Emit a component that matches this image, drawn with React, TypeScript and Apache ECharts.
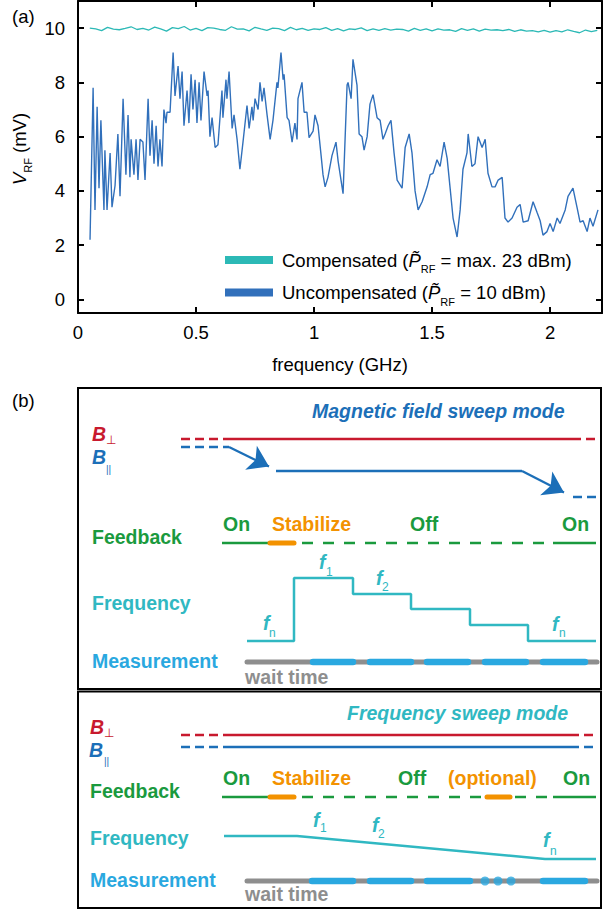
import React, { useEffect, useRef } from "react";
import * as echarts from "echarts";

const FONT = '"Liberation Sans", Arial, Helvetica, sans-serif';

// ---------- Panel (a) data ----------
const xTickValues = [0, 0.5, 1, 1.5, 2];
const xTopTickValues = [0.5, 1, 1.5, 2];
const yTickValues = [0, 2, 4, 6, 8, 10];

const compFreq = [
  0.05, 0.075, 0.1, 0.125, 0.15, 0.175, 0.2, 0.225, 0.25, 0.275, 0.3, 0.325, 0.35, 0.375, 0.4, 0.425,
  0.45, 0.475, 0.5, 0.525, 0.55, 0.575, 0.6, 0.625, 0.65, 0.675, 0.7, 0.725, 0.75, 0.775, 0.8, 0.825,
  0.85, 0.875, 0.9, 0.925, 0.95, 0.975, 1.0, 1.025, 1.05, 1.075, 1.1, 1.125, 1.15, 1.175, 1.2, 1.225,
  1.25, 1.275, 1.3, 1.325, 1.35, 1.375, 1.4, 1.425, 1.45, 1.475, 1.5, 1.525, 1.55, 1.575, 1.6, 1.625,
  1.65, 1.675, 1.7, 1.725, 1.75, 1.775, 1.8, 1.825, 1.85, 1.875, 1.9, 1.925, 1.95, 1.975, 2.0, 2.025,
  2.05, 2.075, 2.1, 2.125, 2.15, 2.175, 2.2,
];
const compVolt = [
  10.0, 9.97, 9.91, 10.03, 9.96, 9.94, 9.99, 10.05, 9.95, 9.99, 9.93, 10.04, 9.97, 9.89, 10.02, 9.98,
  10.06, 9.93, 9.99, 9.91, 10.02, 10.0, 9.95, 9.92, 10.05, 9.96, 9.97, 9.9, 10.03, 9.97, 9.92, 10.0,
  9.98, 9.91, 10.03, 9.94, 9.99, 9.92, 9.97, 9.95, 10.02, 9.92, 9.98, 9.9, 9.97, 9.95, 10.01, 9.91,
  9.97, 9.92, 9.98, 9.93, 9.96, 9.95, 9.89, 9.99, 9.92, 9.97, 9.9, 9.97, 9.93, 9.94, 9.88, 9.98,
  9.92, 9.97, 9.89, 9.96, 9.93, 9.94, 9.91, 9.95, 9.88, 9.94, 9.89, 9.91, 9.86, 9.92, 9.85, 9.91,
  9.86, 9.94, 9.88, 9.83, 9.93, 9.87, 9.92,
];

const uncompFreq = [
  0.051, 0.064, 0.072, 0.081, 0.089, 0.097, 0.11, 0.114, 0.123, 0.136, 0.144, 0.157, 0.169, 0.178, 0.191,
  0.203, 0.212, 0.22, 0.225, 0.237, 0.246, 0.254, 0.263, 0.275, 0.284, 0.297, 0.305, 0.314, 0.322, 0.331,
  0.339, 0.347, 0.356, 0.364, 0.373, 0.377, 0.39, 0.403, 0.411, 0.424, 0.432, 0.441, 0.449, 0.462, 0.47,
  0.479, 0.487, 0.496, 0.504, 0.513, 0.521,
  0.534, 0.547, 0.551, 0.559, 0.568, 0.581, 0.593, 0.61, 0.614, 0.627, 0.631, 0.64, 0.653, 0.661, 0.674,
  0.686, 0.699, 0.716, 0.725, 0.737, 0.742, 0.75, 0.763, 0.771, 0.78, 0.788, 0.801, 0.814, 0.826, 0.843,
  0.847, 0.86, 0.869, 0.873, 0.886, 0.894, 0.907, 0.919, 0.928, 0.932, 0.949, 0.958, 0.97, 0.979, 0.996,
  1.004, 1.017, 1.03, 1.038, 1.047, 1.059, 1.076, 1.093, 1.102, 1.123, 1.14, 1.144, 1.157, 1.165, 1.182,
  1.191, 1.203, 1.212, 1.225, 1.237, 1.25, 1.267, 1.28, 1.292, 1.301, 1.314, 1.326, 1.339, 1.352, 1.373,
  1.386, 1.403, 1.415, 1.428, 1.441, 1.458, 1.479, 1.492, 1.504, 1.521, 1.534, 1.551, 1.564, 1.576, 1.589,
  1.606, 1.619, 1.631, 1.648, 1.653, 1.669, 1.682, 1.695, 1.712, 1.725, 1.737, 1.754, 1.767, 1.78, 1.797,
  1.809, 1.822, 1.839, 1.86, 1.873, 1.886, 1.907, 1.928, 1.945, 1.958, 1.97, 1.987, 2.0, 2.013, 2.03,
  2.042, 2.064, 2.076, 2.097, 2.114, 2.127, 2.14, 2.157, 2.169, 2.182, 2.203,
];
const uncompVolt = [
  2.2, 7.8, 3.3, 7.1, 4.1, 6.6, 3.3, 5.5, 3.3, 5.4, 3.4, 4.2, 6.1, 3.8, 7.4,
  4.6, 6.8, 4.5, 5.9, 4.6, 5.9, 4.4, 5.9, 5.8, 4.4, 7.4, 5.3, 6.6, 5.0, 6.4,
  4.9, 5.9, 4.9, 7.0, 6.5, 6.9, 6.9, 9.1, 7.5, 8.6, 7.4, 8.4, 6.4, 7.7, 6.5,
  8.3, 7.0, 8.1, 6.5, 8.0, 6.6,
  8.4, 7.5, 7.7, 6.0, 6.7, 5.6, 5.7, 7.7, 6.7, 8.1, 7.4, 8.4, 6.3, 6.8, 5.9,
  4.8, 5.8, 7.15, 6.3, 7.1, 6.6, 7.4, 7.0, 8.0, 7.3, 7.8, 6.8, 5.9, 6.6, 8.0,
  7.8, 9.1, 8.1, 8.3, 6.7, 6.6, 5.8, 6.5, 5.9, 7.4, 8.0, 6.9, 6.9, 5.96, 6.2,
  6.8, 6.4, 5.3, 4.6, 4.15, 4.5, 5.3, 5.8, 5.1, 3.9, 7.9, 8.0, 7.4, 8.85, 7.9,
  6.1, 6.0, 5.5, 6.0, 7.2, 7.55, 6.7, 6.6, 5.9, 6.1, 6.4, 6.6, 5.4, 4.4, 4.1,
  5.6, 6.1, 5.4, 4.0, 3.3, 3.6, 4.15, 4.6, 4.65, 5.15, 4.9, 5.8, 5.2, 4.15, 3.0,
  2.3, 3.3, 4.8, 5.4, 6.1, 4.9, 5.0, 6.0, 5.6, 5.9, 4.65, 4.15, 4.15, 4.4, 4.5,
  3.0, 2.85, 3.0, 3.4, 3.5, 2.85, 2.9, 3.6, 3.2, 2.9, 2.37, 2.5, 2.8, 2.5, 3.0,
  2.8, 3.3, 3.8, 4.1, 3.4, 2.85, 2.9, 2.5, 3.0, 2.7, 3.3,
];

// ---------- Panel (b) schematic data (time axis / row level, schematic units) ----------
// magnetic field sweep mode
const magBPerpDashed = [[[181, 439], [225, 439]], [[572, 439], [596, 439]]];
const magBPerpSolid = [[225, 439], [572, 439]];
const magBParDashed = [[[181, 447], [225, 447]], [[573, 497], [596, 497]]];
const magBParSolid = [[[225, 447], [229, 447]], [[276, 471], [522, 471]]];
const magBParArrows = [[[229, 447], [269, 466.5]], [[522, 471], [564, 492.5]]];
const magFbSolid = [[[222, 543], [270, 543]], [[553, 543], [596, 543]]];
const magFbStabilize = [[[270, 543], [294, 543]]];
const magFbDashed = [[[302, 543], [546, 543]]];
const magFreqTimes = [247, 294, 353, 411, 470, 528, 596];
const magFreqLevels = [641, 578, 594, 609, 625, 641, 641];
const magMeasWait = [[247, 662], [597, 662]];
const magMeasWindows = [[313, 353], [370, 411], [427, 468], [485, 526], [543, 585]];
const magMeasY = 662;

// frequency sweep mode
const frqBPerpDashed = [[[181, 735], [225, 735]], [[570, 735], [596, 735]]];
const frqBPerpSolid = [[225, 735], [570, 735]];
const frqBParDashed = [[[181, 747], [225, 747]], [[570, 747], [596, 747]]];
const frqBParSolid = [[225, 747], [570, 747]];
const frqFbSolid = [[[222, 797], [270, 797]], [[553, 797], [596, 797]]];
const frqFbStabilize = [[[270, 797], [294, 797]], [[487, 797], [510, 797]]];
const frqFbDashed = [[[302, 797], [484, 797]], [[515, 797], [548, 797]]];
const frqFreqSweep = [[224, 836], [297, 836], [545, 859], [596, 859]];
const frqMeasWait = [[247, 881], [597, 881]];
const frqMeasWindows = [[312, 353], [370, 411], [427, 470], [543, 585]];
const frqMeasDots = [485, 498, 511];
const frqMeasY = 881;

// ---------- colours ----------
const C_COMP = "#2cb9b6";
const C_UNCOMP = "#3170bb";
const RED = "#c8192e";
const BLUE = "#1c6fb8";
const GREEN = "#1a9a3e";
const ORANGE = "#f39200";
const CYAN = "#30b8c2";
const MEAS = "#2aa8e0";
const GRAY = "#8e8e8e";

const sch = (data: any[], color: string, width: number, extra: any = {}) => ({
  type: "line",
  xAxisIndex: 2,
  yAxisIndex: 2,
  data,
  showSymbol: false,
  symbol: "none",
  silent: true,
  step: extra.step || false,
  z: extra.z || 2,
  emphasis: { disabled: true },
  lineStyle: { color, width, type: extra.dash || "solid", cap: extra.cap || "butt" },
  ...(extra.markLine ? { markLine: extra.markLine } : {}),
});

const txt = (text: string, x: number, y: number, fill: string, size = 19.5, style = "normal", weight = "bold") => ({
  type: "text",
  x,
  y,
  silent: true,
  style: {
    text,
    fill,
    font: `${style} ${weight} ${size}px ${FONT}`,
    textAlign: "left",
    textVerticalAlign: "middle",
    align: "left",
    verticalAlign: "middle",
  },
});

export default function App() {
  const ref = useRef<HTMLDivElement>(null);
  useEffect(() => {
    if (!ref.current) return;
    const chart = echarts.init(ref.current, undefined, { renderer: "svg" });

    const compData = compFreq.map((f, i) => [f, compVolt[i]]);
    const uncompData = uncompFreq.map((f, i) => [f, uncompVolt[i]]);

    const series: any[] = [
      {
        name: "Uncompensated",
        type: "line",
        xAxisIndex: 0,
        yAxisIndex: 0,
        data: uncompData,
        showSymbol: false,
        symbol: "none",
        color: C_UNCOMP,
        lineStyle: { color: C_UNCOMP, width: 1.4 },
        emphasis: { disabled: true },
        z: 3,
      },
      {
        name: "Compensated",
        type: "line",
        xAxisIndex: 0,
        yAxisIndex: 0,
        data: compData,
        showSymbol: false,
        symbol: "none",
        color: C_COMP,
        lineStyle: { color: C_COMP, width: 1.3 },
        emphasis: { disabled: true },
        z: 3,
      },
    ];

    // magnetic field sweep mode
    magBPerpDashed.forEach((d) => series.push(sch(d, RED, 2.3, { dash: [9, 5] })));
    series.push(sch(magBPerpSolid, RED, 2.3));
    magBParDashed.forEach((d) => series.push(sch(d, BLUE, 2.3, { dash: [9, 5] })));
    magBParSolid.forEach((d, i) =>
      series.push(
        sch(d, BLUE, 2.3, i === 0
          ? {
              markLine: {
                silent: true,
                symbol: ["none", "arrow"],
                symbolSize: 20,
                label: { show: false },
                emphasis: { disabled: true },
                lineStyle: { color: BLUE, width: 2.3, type: "solid" },
                itemStyle: { color: BLUE },
                data: magBParArrows.map(([a, b]) => [{ coord: a }, { coord: b }]),
              },
            }
          : {})
      )
    );
    magFbSolid.forEach((d) => series.push(sch(d, GREEN, 2.3)));
    magFbDashed.forEach((d) => series.push(sch(d, GREEN, 2.3, { dash: [11, 10] })));
    magFbStabilize.forEach((d) => series.push(sch(d, ORANGE, 5, { cap: "round", z: 3 })));
    series.push(
      sch(magFreqTimes.map((t, i) => [t, magFreqLevels[i]]), CYAN, 2.5, { step: "end" })
    );
    series.push(sch(magMeasWait, GRAY, 5, { cap: "round" }));
    magMeasWindows.forEach(([a, b]) =>
      series.push(sch([[a, magMeasY], [b, magMeasY]], MEAS, 6.5, { cap: "round", z: 3 }))
    );

    // frequency sweep mode
    frqBPerpDashed.forEach((d) => series.push(sch(d, RED, 2.3, { dash: [9, 5] })));
    series.push(sch(frqBPerpSolid, RED, 2.3));
    frqBParDashed.forEach((d) => series.push(sch(d, BLUE, 2.3, { dash: [9, 5] })));
    series.push(sch(frqBParSolid, BLUE, 2.3));
    frqFbSolid.forEach((d) => series.push(sch(d, GREEN, 2.3)));
    frqFbDashed.forEach((d) => series.push(sch(d, GREEN, 2.3, { dash: [11, 10] })));
    frqFbStabilize.forEach((d) => series.push(sch(d, ORANGE, 5, { cap: "round", z: 3 })));
    series.push(sch(frqFreqSweep, CYAN, 2.5));
    series.push(sch(frqMeasWait, GRAY, 5, { cap: "round" }));
    frqMeasWindows.forEach(([a, b]) =>
      series.push(sch([[a, frqMeasY], [b, frqMeasY]], MEAS, 6.5, { cap: "round", z: 3 }))
    );
    series.push({
      type: "scatter",
      xAxisIndex: 2,
      yAxisIndex: 2,
      data: frqMeasDots.map((t) => [t, frqMeasY]),
      symbol: "circle",
      symbolSize: 9,
      itemStyle: { color: MEAS },
      silent: true,
      z: 3,
      emphasis: { disabled: true },
    });

    const axisBase = {
      axisLine: { show: true, onZero: false, lineStyle: { color: "#000", width: 2 } },
      axisTick: { show: true, inside: true, length: 6, lineStyle: { color: "#000", width: 2 } },
      splitLine: { show: false },
    };

    const subRich = {
      v: { fontStyle: "italic", fontFamily: FONT, fontSize: 18.5, color: "#000", lineHeight: 22 },
      p: { fontStyle: "italic", fontFamily: FONT, fontSize: 18.5, color: "#000", lineHeight: 22 },
      s: { fontFamily: FONT, fontSize: 11, color: "#000", verticalAlign: "bottom", height: 4, lineHeight: 22 },
    };

    const graphic: any[] = [
      txt("(a)", 12, 16.5, "#000", 18.5, "normal", "normal"),
      txt("(b)", 12, 400, "#000", 18.5, "normal", "normal"),
      {
        type: "rect",
        silent: true,
        shape: { x: 78, y: 388, width: 523, height: 301 },
        style: { fill: "none", stroke: "#000", lineWidth: 2 },
      },
      {
        type: "rect",
        silent: true,
        shape: { x: 78, y: 691.5, width: 523, height: 216.5 },
        style: { fill: "none", stroke: "#000", lineWidth: 2 },
      },
      // magnetic field sweep mode
      txt("Magnetic field sweep mode", 312, 410.5, BLUE, 19.5, "italic"),
      txt("B", 92, 433.5, RED, 19.5, "italic"),
      txt("\u22A5", 106, 440, RED, 12, "normal", "normal"),
      txt("B", 92, 457, BLUE, 19.5, "italic"),
      txt("||", 106, 469, BLUE, 10, "normal", "normal"),
      txt("On", 223, 524, GREEN),
      txt("Stabilize", 272, 524, ORANGE),
      txt("Off", 410, 524, GREEN),
      txt("On", 562, 524, GREEN),
      txt("Feedback", 92, 537, GREEN),
      txt("Frequency", 92, 602.5, CYAN),
      txt("f", 319, 562, CYAN, 19.5, "italic"),
      txt("1", 326, 571.5, CYAN, 12, "normal", "normal"),
      txt("f", 376, 578, CYAN, 19.5, "italic"),
      txt("2", 382, 587, CYAN, 12, "normal", "normal"),
      txt("f", 263, 623, CYAN, 19.5, "italic"),
      txt("n", 269, 633, CYAN, 12, "normal", "normal"),
      txt("f", 552, 624, CYAN, 19.5, "italic"),
      txt("n", 559, 633, CYAN, 12, "normal", "normal"),
      txt("Measurement", 92, 660.5, MEAS),
      txt("wait time", 245, 677, GRAY),
      // frequency sweep mode
      txt("Frequency sweep mode", 347, 712.5, CYAN, 19.5, "italic"),
      txt("B", 90, 727, RED, 19.5, "italic"),
      txt("\u22A5", 104, 732.5, RED, 12, "normal", "normal"),
      txt("B", 89, 750, BLUE, 19.5, "italic"),
      txt("||", 104, 761, BLUE, 10, "normal", "normal"),
      txt("On", 223, 777.5, GREEN),
      txt("Stabilize", 272, 777.5, ORANGE),
      txt("Off", 398, 777.5, GREEN),
      txt("(optional)", 448, 777.5, ORANGE),
      txt("On", 563, 777.5, GREEN),
      txt("Feedback", 90, 790.5, GREEN),
      txt("Frequency", 90, 837.5, CYAN),
      txt("f", 313, 820, CYAN, 19.5, "italic"),
      txt("1", 320, 828, CYAN, 12, "normal", "normal"),
      txt("f", 372, 825, CYAN, 19.5, "italic"),
      txt("2", 378, 834, CYAN, 12, "normal", "normal"),
      txt("f", 543, 840, CYAN, 19.5, "italic"),
      txt("n", 550, 851, CYAN, 12, "normal", "normal"),
      txt("Measurement", 90, 879.5, MEAS),
      txt("wait time", 245, 893.5, GRAY),
    ];

    chart.setOption({
      animation: false,
      textStyle: { fontFamily: FONT },
      grid: [
        { left: 78, top: 1, width: 524, height: 312, containLabel: false },
        { left: 78, top: 388, width: 524, height: 520, containLabel: false },
      ],
      legend: {
        show: true,
        orient: "vertical",
        left: 220,
        top: 244,
        itemWidth: 48,
        itemHeight: 8,
        itemGap: 7,
        icon: "rect",
        selectedMode: false,
        data: ["Compensated", "Uncompensated"],
        formatter: (name: string) =>
          name === "Compensated"
            ? "Compensated ({p|P\u0303}{s|RF} = max. 23 dBm)"
            : "Uncompensated ({p|P\u0303}{s|RF} = 10 dBm)",
        textStyle: {
          fontFamily: FONT,
          fontSize: 18.5,
          color: "#000",
          lineHeight: 22,
          padding: [0, 0, 0, 4],
          rich: subRich,
        },
      },
      xAxis: [
        {
          ...axisBase,
          gridIndex: 0,
          type: "value",
          position: "bottom",
          min: 0,
          max: 2.22,
          axisTick: { ...axisBase.axisTick, customValues: xTickValues },
          axisLabel: {
            show: true,
            customValues: xTickValues,
            margin: 10,
            fontFamily: FONT,
            fontSize: 18.5,
            color: "#000",
          },
          name: "frequency (GHz)",
          nameLocation: "middle",
          nameGap: 42,
          nameTextStyle: { fontFamily: FONT, fontSize: 18.5, color: "#000" },
        },
        {
          ...axisBase,
          gridIndex: 0,
          type: "value",
          position: "top",
          min: 0,
          max: 2.22,
          axisTick: { ...axisBase.axisTick, customValues: xTopTickValues },
          axisLabel: { show: false },
        },
        { gridIndex: 1, type: "value", min: 78, max: 602, show: false },
      ],
      yAxis: [
        {
          ...axisBase,
          gridIndex: 0,
          type: "value",
          position: "left",
          min: -0.5,
          max: 11,
          axisTick: { ...axisBase.axisTick, customValues: yTickValues },
          axisLabel: {
            show: true,
            customValues: yTickValues,
            margin: 13,
            fontFamily: FONT,
            fontSize: 18.5,
            color: "#000",
          },
          name: "{v|V}{s|RF} (mV)",
          nameLocation: "middle",
          nameGap: 48,
          nameRotate: 90,
          nameTextStyle: {
            fontFamily: FONT,
            fontSize: 18.5,
            color: "#000",
            lineHeight: 22,
            padding: [0, 0, 0, 16],
            rich: subRich,
          },
        },
        {
          ...axisBase,
          gridIndex: 0,
          type: "value",
          position: "right",
          min: -0.5,
          max: 11,
          axisTick: { ...axisBase.axisTick, customValues: yTickValues },
          axisLabel: { show: false },
        },
        { gridIndex: 1, type: "value", min: 388, max: 908, inverse: true, show: false },
      ],
      series,
      graphic,
    });

    return () => {
      chart.dispose();
    };
  }, []);

  return (
    <div
      ref={ref}
      style={{ position: "fixed", left: 0, top: 0, width: 603, height: 913, background: "#fff" }}
    />
  );
}
